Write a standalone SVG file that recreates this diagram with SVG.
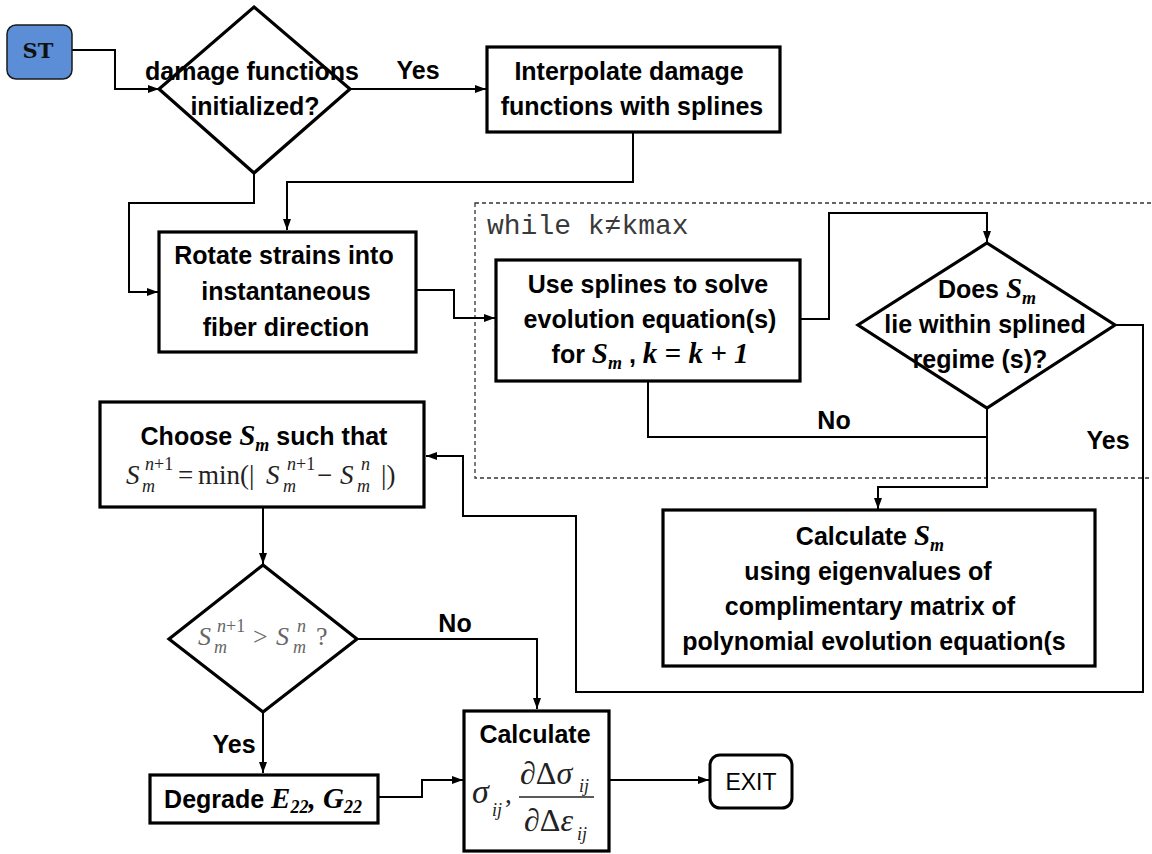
<svg xmlns="http://www.w3.org/2000/svg" width="1152" height="854" viewBox="0 0 1152 854">
<defs>
<marker id="arr" markerWidth="11" markerHeight="10" refX="11" refY="5" orient="auto" markerUnits="userSpaceOnUse"><path d="M0,1 L11,5 L0,9 z" fill="#000"/></marker>
<style>
.box{fill:#fff;stroke:#000;stroke-width:3.2}
.con{fill:none;stroke:#000;stroke-width:2}
.t{font-family:"Liberation Sans",Arial,sans-serif;font-weight:bold;font-size:25px;fill:#000}
.c{text-anchor:middle}
.mi{font-family:"Liberation Serif","Times New Roman",serif;font-style:italic;font-weight:bold;font-size:29px}
.ms{font-family:"Liberation Serif","Times New Roman",serif;font-style:italic;font-weight:bold;font-size:18px}
.m{font-family:"Liberation Serif","Times New Roman",serif;font-size:27px;fill:#222}
.mit{font-family:"Liberation Serif","Times New Roman",serif;font-style:italic;font-size:27px;fill:#222}
.msm{font-family:"Liberation Serif","Times New Roman",serif;font-style:italic;font-size:18px;fill:#222}
.g{fill:#666}
</style>
</defs>
<rect x="0" y="0" width="1152" height="854" fill="#fff"/>

<g id="loop">
<rect x="475" y="203" width="700" height="275" fill="none" stroke="#333" stroke-width="1.3" stroke-dasharray="4 3"/>
<text x="487" y="234" font-family="'Liberation Mono','Courier New',monospace" font-size="28" fill="#3a3a3a">while k≠kmax</text>
</g>

<g id="connectors">
<path class="con" d="M72,50 H115 V89 H159" marker-end="url(#arr)"/>
<path class="con" d="M350,89 H486" marker-end="url(#arr)"/>
<path class="con" d="M633,132 V182 H287 V230" marker-end="url(#arr)"/>
<path class="con" d="M254,173 V203 H129 V292 H158" marker-end="url(#arr)"/>
<path class="con" d="M416,290 H454 V318 H495" marker-end="url(#arr)"/>
<path class="con" d="M800,319 H829 V213 H987 V242" marker-end="url(#arr)"/>
<path class="con" d="M648,381 V437 H987"/>
<path class="con" d="M987,408 V487 H878 V509" marker-end="url(#arr)"/>
<path class="con" d="M1115,325 H1143 V692 H576 V516 H463 V456 H426" marker-end="url(#arr)"/>
<path class="con" d="M263,507 V564" marker-end="url(#arr)"/>
<path class="con" d="M357,639 H537 V709" marker-end="url(#arr)"/>
<path class="con" d="M263,712 V773" marker-end="url(#arr)"/>
<path class="con" d="M378,797 H422 V780 H463" marker-end="url(#arr)"/>
<path class="con" d="M609,780 H709" marker-end="url(#arr)"/>
<text class="t" x="418" y="79" text-anchor="middle">Yes</text>
<text class="t" x="834" y="429" text-anchor="middle">No</text>
<text class="t" x="1108" y="449" text-anchor="middle">Yes</text>
<text class="t" x="455" y="632" text-anchor="middle">No</text>
<text class="t" x="234" y="753" text-anchor="middle">Yes</text>
</g>

<g id="start">
<rect x="7" y="25" width="65" height="54" rx="9" fill="#5B8ED6" stroke="#1a1a1a" stroke-width="1.5"/>
<text x="38" y="58" text-anchor="middle" font-family="'DejaVu Serif','Liberation Serif',serif" font-weight="bold" font-size="21" fill="#111">ST</text>
</g>

<g id="dec1">
<polygon class="box" points="254,7 350,89 254,173 159,89"/>
<text class="t c" x="252" y="80">damage functions</text>
<text class="t c" x="255" y="115">initialized?</text>
</g>

<g id="interp">
<rect class="box" x="487" y="47" width="293" height="85"/>
<text class="t c" x="629" y="80">Interpolate damage</text>
<text class="t c" x="632" y="115">functions with splines</text>
</g>

<g id="rotate">
<rect class="box" x="159" y="232" width="257" height="120"/>
<text class="t c" x="284" y="264">Rotate strains into</text>
<text class="t c" x="286" y="300">instantaneous</text>
<text class="t c" x="286" y="336">fiber direction</text>
</g>

<g id="usesplines">
<rect class="box" x="496" y="260" width="304" height="121"/>
<text class="t c" x="648" y="293">Use splines to solve</text>
<text class="t c" x="650" y="328">evolution equation(s)</text>
<text class="t c" x="650" y="363">for <tspan class="mi">S</tspan><tspan class="ms" dy="6">m</tspan><tspan dy="-6"> , </tspan><tspan class="mi">k = k + 1</tspan></text>
</g>

<g id="dec2">
<polygon class="box" points="987,243 1115,325 987,408 858,325"/>
<text class="t c" x="987" y="298">Does <tspan class="mi">S</tspan><tspan class="ms" dy="6">m</tspan></text>
<text class="t c" x="985" y="333">lie within splined</text>
<text class="t c" x="980" y="368">regime (s)?</text>
</g>

<g id="choose">
<rect class="box" x="100" y="402" width="324" height="105"/>
<text class="t c" x="264" y="445">Choose <tspan class="mi">S</tspan><tspan class="ms" dy="6">m</tspan><tspan dy="-6"> such that</tspan></text>
<text class="mit" x="126" y="484">S</text>
<text class="msm" x="145" y="470">n<tspan style="font-style:normal">+1</tspan></text>
<text class="msm" x="142" y="492">m</text>
<text class="m" x="178" y="484">=</text>
<text class="m" x="198" y="484">min(|</text>
<text class="mit" x="266" y="484">S</text>
<text class="msm" x="287" y="470">n<tspan style="font-style:normal">+1</tspan></text>
<text class="msm" x="283" y="492">m</text>
<text class="m" x="317" y="484">−</text>
<text class="mit" x="340" y="484">S</text>
<text class="msm" x="361" y="470">n</text>
<text class="msm" x="357" y="492">m</text>
<text class="m" x="381" y="484">|)</text>
</g>

<g id="calcsm">
<rect class="box" x="663" y="510" width="432" height="156"/>
<text class="t c" x="870" y="545">Calculate <tspan class="mi">S</tspan><tspan class="ms" dy="6">m</tspan></text>
<text class="t c" x="868" y="580">using eigenvalues of</text>
<text class="t c" x="870" y="615">complimentary matrix of</text>
<text class="t c" x="874" y="650">polynomial evolution equation(s</text>
</g>

<g id="dec3">
<polygon class="box" points="263,565 357,639 263,712 169,639"/>
<text class="mit g" x="198" y="645" style="font-size:26px">S</text>
<text class="msm g" x="217" y="632">n<tspan style="font-style:normal">+1</tspan></text>
<text class="msm g" x="214" y="653">m</text>
<text class="m g" x="253" y="645" style="font-size:26px">&gt;</text>
<text class="mit g" x="276" y="645" style="font-size:26px">S</text>
<text class="msm g" x="297" y="632">n</text>
<text class="msm g" x="293" y="653">m</text>
<text class="m g" x="316" y="645" style="font-size:26px">?</text>
</g>

<g id="degrade">
<rect class="box" x="150" y="775" width="228" height="48"/>
<text class="t c" x="263" y="808">Degrade <tspan class="mi">E</tspan><tspan class="ms" dy="5">22</tspan><tspan class="mi" dy="-5">, G</tspan><tspan class="ms" dy="5">22</tspan></text>
</g>

<g id="calc">
<rect class="box" x="464" y="711" width="145" height="140"/>
<text class="t c" x="535" y="743">Calculate</text>
<text class="mit" x="472" y="803" style="font-size:34px">σ</text>
<text class="msm" x="492" y="816">ij</text>
<text class="m" x="505" y="803">,</text>
<text class="m" x="520" y="784" style="font-size:32px">∂Δ<tspan style="font-style:italic">σ</tspan></text>
<text class="msm" x="579" y="792">ij</text>
<line x1="519" y1="797" x2="594" y2="797" stroke="#222" stroke-width="1.5"/>
<text class="m" x="524" y="831" style="font-size:32px">∂Δ<tspan style="font-style:italic">ε</tspan></text>
<text class="msm" x="577" y="840">ij</text>
</g>

<g id="exit">
<rect x="710" y="755" width="82" height="53" rx="10" fill="#fff" stroke="#000" stroke-width="3"/>
<text x="751" y="790" text-anchor="middle" font-family="'Liberation Sans',Arial,sans-serif" font-size="23" fill="#000">EXIT</text>
</g>
</svg>
